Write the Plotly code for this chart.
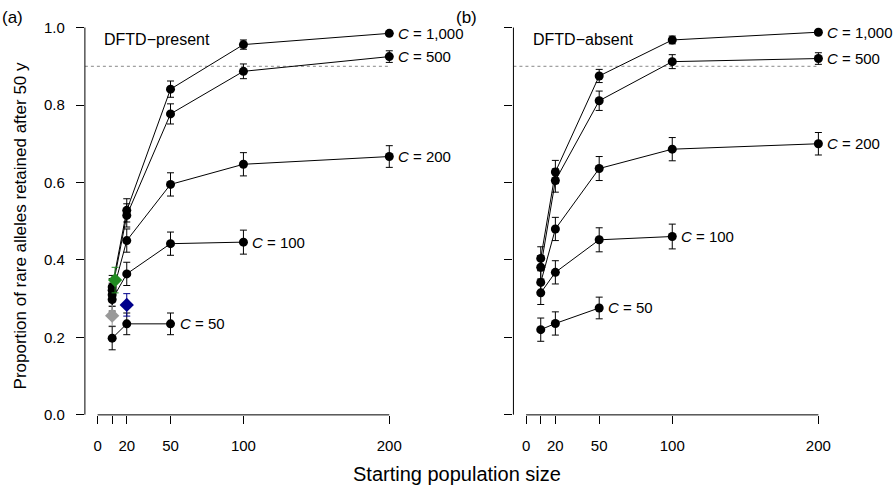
import plotly.graph_objects as go

# ---------------- data ----------------
pop_sizes = [10, 20, 50, 100, 200]
x_ticks = [0, 10, 20, 50, 100, 200]
x_ticktext = ["0", "", "20", "50", "100", "200"]
y_ticks = [0.0, 0.2, 0.4, 0.6, 0.8, 1.0]
y_ticktext = ["0.0", "0.2", "0.4", "0.6", "0.8", "1.0"]

series_names = ["1,000", "500", "200", "100", "50"]

# DFTD-present (a)
present_c1000 = [0.330, 0.528, 0.841, 0.956, 0.985]
present_c1000_err = [0.030, 0.030, 0.021, 0.012, 0.005]
present_c500 = [0.322, 0.515, 0.777, 0.887, 0.925]
present_c500_err = [0.030, 0.030, 0.026, 0.019, 0.015]
present_c200 = [0.310, 0.450, 0.595, 0.647, 0.667]
present_c200_err = [0.030, 0.030, 0.030, 0.030, 0.028]
present_c100 = [0.298, 0.364, 0.442, 0.446]
present_c100_err = [0.030, 0.030, 0.030, 0.031]
present_c50 = [0.198, 0.235, 0.235]
present_c50_err = [0.030, 0.028, 0.028]

# DFTD-absent (b)
absent_c1000 = [0.404, 0.627, 0.875, 0.968, 0.988]
absent_c1000_err = [0.030, 0.030, 0.017, 0.010, 0.005]
absent_c500 = [0.381, 0.605, 0.811, 0.912, 0.920]
absent_c500_err = [0.030, 0.030, 0.025, 0.018, 0.015]
absent_c200 = [0.342, 0.480, 0.636, 0.686, 0.700]
absent_c200_err = [0.030, 0.030, 0.031, 0.030, 0.029]
absent_c100 = [0.315, 0.368, 0.452, 0.4605]
absent_c100_err = [0.030, 0.030, 0.031, 0.032]
absent_c50 = [0.220, 0.236, 0.276]
absent_c50_err = [0.030, 0.030, 0.028]

# extra coloured scenarios in panel (a)
diamond_x = [12, 10, 20]
diamond_y = [0.348, 0.256, 0.284]
diamond_err = [0.033, 0.026, 0.029]
diamond_colors = ["#228B22", "#999999", "#00008B"]

threshold = 0.9

# ---------------- layout geometry ----------------
W, H = 896, 485
HE = 476  # effective vertical extent observed in the rendered page
FONT = "Arial, Liberation Sans, Helvetica, sans-serif"
x_range = [-8.7, 208]
y_range = [0, 1.04]
left_dom = [85 / W, 401.4 / W]
right_dom = [514 / W, 831 / W]
y_dom = [(HE - 414) / HE, (HE - 12.04) / HE]


def py(pix):
    return (HE - pix) / HE


fig = go.Figure()

panels = [
    ("x", "y", [present_c1000, present_c500, present_c200, present_c100, present_c50],
     [present_c1000_err, present_c500_err, present_c200_err, present_c100_err, present_c50_err]),
    ("x2", "y2", [absent_c1000, absent_c500, absent_c200, absent_c100, absent_c50],
     [absent_c1000_err, absent_c500_err, absent_c200_err, absent_c100_err, absent_c50_err]),
]

for xa, ya, vals, errs in panels:
    for name, v, e in zip(series_names, vals, errs):
        xs = pop_sizes[:len(v)]
        fig.add_trace(go.Scatter(
            x=xs, y=v, xaxis=xa, yaxis=ya, mode="lines+markers",
            line=dict(color="black", width=1),
            marker=dict(color="black", size=9, symbol="circle"),
            error_y=dict(type="data", array=e, visible=True, color="black",
                         thickness=1, width=3.5),
            cliponaxis=False, showlegend=False, name="C = " + name,
            hoverinfo="skip",
        ))
        fig.add_annotation(
            x=xs[-1], y=v[-1], xref=xa, yref=ya, text="<i>C</i> = " + name,
            showarrow=False, xanchor="left", yanchor="middle", xshift=7,
            font=dict(family=FONT, size=15, color="black"),
        )

for dx, dy, de, dc in zip(diamond_x, diamond_y, diamond_err, diamond_colors):
    fig.add_trace(go.Scatter(
        x=[dx], y=[dy], xaxis="x", yaxis="y", mode="markers",
        marker=dict(color=dc, size=11, symbol="diamond"),
        error_y=dict(type="data", array=[de], visible=True, color=dc,
                     thickness=1, width=3.5),
        cliponaxis=False, showlegend=False, hoverinfo="skip",
    ))

axis_common = dict(showgrid=False, zeroline=False, showline=False,
                   ticks="outside", ticklen=8, tickwidth=1, tickcolor="black",
                   tickfont=dict(family=FONT, size=15, color="black"))

fig.update_layout(
    width=W, height=H, autosize=False,
    margin=dict(l=0, r=0, t=0, b=0),
    paper_bgcolor="white", plot_bgcolor="white",
    xaxis=dict(domain=left_dom, range=x_range, anchor="y",
               tickvals=x_ticks, ticktext=x_ticktext, ticklabelstandoff=9, **axis_common),
    xaxis2=dict(domain=right_dom, range=x_range, anchor="y2",
                tickvals=x_ticks, ticktext=x_ticktext, ticklabelstandoff=9, **axis_common),
    yaxis=dict(domain=y_dom, range=y_range, anchor="x",
               tickvals=y_ticks, ticktext=y_ticktext, ticklabelstandoff=8, **axis_common),
    yaxis2=dict(domain=y_dom, range=y_range, anchor="x2",
                tickvals=y_ticks, showticklabels=False, **axis_common),
)

# R-style axis lines spanning only the tick range, and 0.9 reference line
for xa, ya in [("x", "y"), ("x2", "y2")]:
    fig.add_shape(type="line", xref=xa + " domain", yref=ya,
                  x0=0, x1=0, y0=y_ticks[0], y1=y_ticks[-1],
                  line=dict(color="black", width=1))
    fig.add_shape(type="line", xref=xa, yref=ya + " domain",
                  x0=x_ticks[0], x1=x_ticks[-1], y0=0, y1=0,
                  line=dict(color="black", width=1))
    fig.add_shape(type="line", xref=xa, yref=ya,
                  x0=x_range[0], x1=x_ticks[-1], y0=threshold, y1=threshold,
                  line=dict(color="#888888", width=1, dash="dot"), layer="below")

# panel text
fig.add_annotation(x=3, y=0.968, xref="x", yref="y", text="DFTD\u2212present",
                   showarrow=False, xanchor="left", yanchor="middle",
                   font=dict(family=FONT, size=16, color="black"))
fig.add_annotation(x=3, y=0.968, xref="x2", yref="y2", text="DFTD\u2212absent",
                   showarrow=False, xanchor="left", yanchor="middle",
                   font=dict(family=FONT, size=16, color="black"))
fig.add_annotation(x=0 / W, y=py(17), xref="paper", yref="paper", text="(a)",
                   showarrow=False, xanchor="left", yanchor="middle",
                   font=dict(family=FONT, size=17, color="black"))
fig.add_annotation(x=455 / W, y=py(17), xref="paper", yref="paper", text="(b)",
                   showarrow=False, xanchor="left", yanchor="middle",
                   font=dict(family=FONT, size=17, color="black"))

# axis titles
fig.add_annotation(x=458 / W, y=py(473), xref="paper", yref="paper",
                   text="Starting population size", showarrow=False,
                   xanchor="center", yanchor="middle",
                   font=dict(family=FONT, size=20, color="black"))
fig.add_annotation(x=20 / W, y=py(225), xref="paper", yref="paper",
                   text="Proportion of rare alleles retained after 50 y", showarrow=False,
                   xanchor="center", yanchor="middle", textangle=-90,
                   font=dict(family=FONT, size=17, color="black"))

fig.write_html(
    "out.html",
    config={"displayModeBar": False, "staticPlot": True},
    post_script="document.body.style.margin='0';document.body.style.overflow='hidden';",
)
